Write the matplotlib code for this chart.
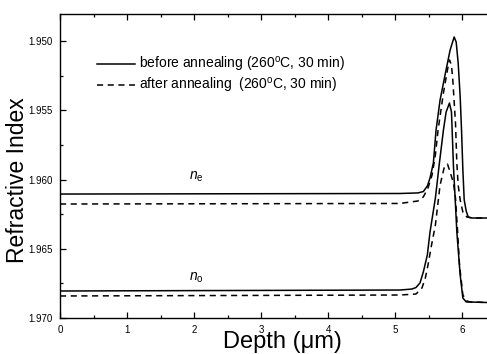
import numpy as np
import matplotlib
matplotlib.use('Agg')
import matplotlib.pyplot as plt

plt.rcParams['font.family'] = 'Liberation Sans'
plt.rcParams['mathtext.fontset'] = 'custom'
plt.rcParams['mathtext.rm'] = 'Liberation Sans'
plt.rcParams['mathtext.it'] = 'Liberation Sans:italic'

# Data (depth in um, refractive index)
neBeforeX = [0.00, 5.07, 5.34, 5.42, 5.48, 5.52, 5.57, 5.61, 5.67, 5.75, 5.82, 5.88,
             5.91, 5.94, 5.97, 5.99, 6.01, 6.03, 6.06, 6.09, 6.15, 6.37]
neBeforeY = [1.96105, 1.96101, 1.96097, 1.96087, 1.96047, 1.95989, 1.95881, 1.95643,
             1.95426, 1.95231, 1.95065, 1.94971, 1.95007, 1.95159, 1.95404, 1.95643,
             1.95931, 1.96148, 1.96228, 1.96271, 1.96278, 1.96278]

neAfterX = [0.00, 5.07, 5.34, 5.42, 5.49, 5.55, 5.60, 5.64, 5.72, 5.78, 5.81, 5.84,
            5.86, 5.90, 5.92, 5.94, 5.97, 6.01, 6.07, 6.15, 6.37]
neAfterY = [1.96177, 1.96173, 1.96155, 1.96126, 1.96061, 1.95968, 1.95823, 1.95643,
            1.95375, 1.95209, 1.95137, 1.95173, 1.95282, 1.95592, 1.95881, 1.96040,
            1.96148, 1.96235, 1.96271, 1.96278, 1.96278]

noBeforeX = [0.00, 5.07, 5.25, 5.31, 5.37, 5.42, 5.48, 5.52, 5.60, 5.66, 5.72, 5.76,
             5.81, 5.84, 5.85, 5.87, 5.90, 5.92, 5.97, 6.01, 6.06, 6.37]
noBeforeY = [1.96805, 1.96798, 1.96791, 1.96780, 1.96747, 1.96668, 1.96545, 1.96379,
             1.96134, 1.95881, 1.95643, 1.95513, 1.95448, 1.95513, 1.95643, 1.95910,
             1.96184, 1.96379, 1.96690, 1.96856, 1.96884, 1.96888]

noAfterX = [0.00, 5.07, 5.31, 5.40, 5.45, 5.49, 5.54, 5.60, 5.67, 5.73, 5.78, 5.82,
            5.87, 5.90, 5.93, 5.96, 6.01, 6.07, 6.12, 6.37]
noAfterY = [1.96841, 1.96834, 1.96827, 1.96783, 1.96711, 1.96617, 1.96480, 1.96329,
            1.96040, 1.95917, 1.95888, 1.95946, 1.96025, 1.96134, 1.96365, 1.96617,
            1.96834, 1.96877, 1.96884, 1.96888]

labelBefore = r'before annealing (260$^{\rm o}$C, 30 min)'
labelAfter = r'after annealing  (260$^{\rm o}$C, 30 min)'

xTicks = [0, 1, 2, 3, 4, 5, 6]
yTicks = [1.950, 1.955, 1.960, 1.965, 1.970]

# Figure
fig = plt.figure(figsize=(4.87, 3.54), dpi=100)
ax = fig.add_axes([60/487, 1-318/354, 1-60/487, (318-14)/354])

dash = (0, (4, 3))
ax.plot(neBeforeX, neBeforeY, color='black', lw=1.1, label=labelBefore)
ax.plot(neAfterX, neAfterY, color='black', lw=1.1, linestyle=dash, label=labelAfter)
ax.plot(noBeforeX, noBeforeY, color='black', lw=1.1)
ax.plot(noAfterX, noAfterY, color='black', lw=1.1, linestyle=dash)

ax.set_xlim(0, 6.37)
ax.set_ylim(1.970, 1.94805)

ax.set_xticks(xTicks)
ax.set_xticks(np.arange(0.5, 6.4, 1.0), minor=True)
ax.set_yticks(yTicks)
ax.set_yticklabels(['{:.3f}'.format(v) for v in yTicks])
ax.set_yticks([1.9525, 1.9575, 1.9625, 1.9675], minor=True)
ax.tick_params(which='both', direction='in', top=True, right=False, labelsize=7, pad=5)
ax.tick_params(which='major', length=4, width=0.9)
ax.tick_params(which='minor', length=2, width=0.9)
ax.spines['right'].set_visible(False)
for s in ['left', 'top', 'bottom']:
    ax.spines[s].set_linewidth(1.0)

ax.set_xlabel('Depth (\u03bcm)', fontsize=17)
ax.xaxis.set_label_coords((282-60)/427, -(348-318)/304, transform=ax.transAxes)
ax.xaxis.label.set_va('baseline')
ax.set_ylabel('Refractive Index', fontsize=16.5)
ax.yaxis.set_label_coords(-0.072, (318-180)/304)

ax.text(1.93, 1.9600, r'$n_{\rm e}$', fontsize=10, ha='left', va='baseline')
ax.text(1.93, 1.9673, r'$n_{\rm o}$', fontsize=10, ha='left', va='baseline')

ax.legend(loc='upper left', bbox_to_anchor=((97-60)/427, (318-55)/304),
          frameon=False, fontsize=10, handlelength=2.75, handletextpad=0.25,
          labelspacing=0.15, borderpad=0, borderaxespad=0)

plt.savefig('out.png', dpi=100)
plt.close('all')
